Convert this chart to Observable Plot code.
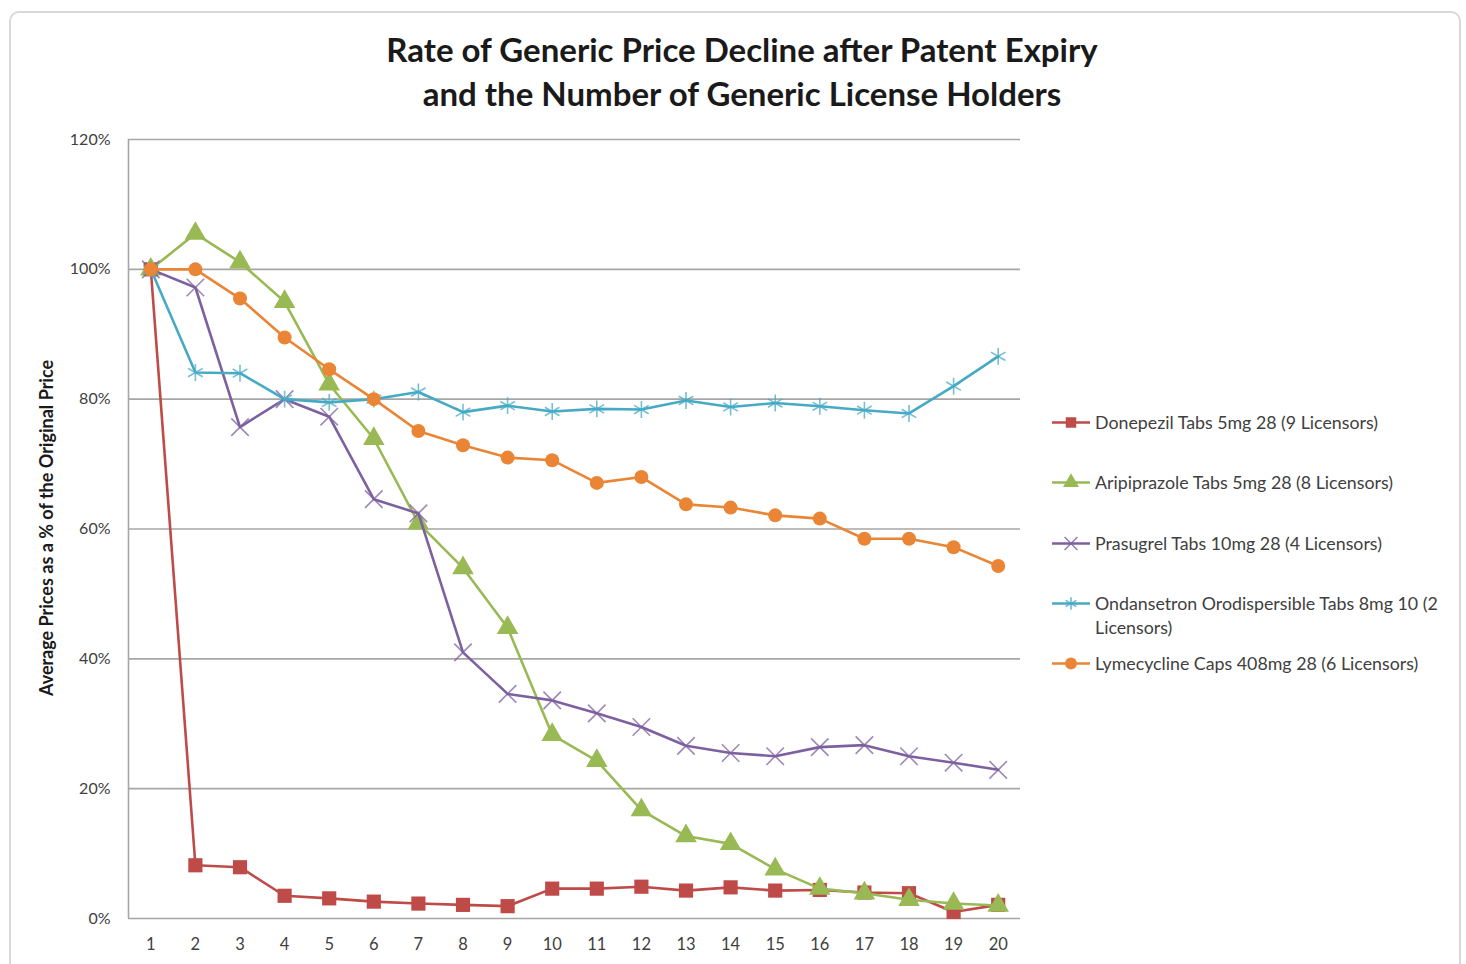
<!DOCTYPE html>
<html>
<head>
<meta charset="utf-8">
<script src="https://cdn.jsdelivr.net/npm/d3@7"></script>
<script src="https://cdn.jsdelivr.net/npm/@observablehq/plot@0.6"></script>
<style>
  html, body { margin: 0; padding: 0; background: #fff; }
  #wrap { position: relative; width: 1466px; height: 964px; overflow: hidden; font-family: Lato, "Open Sans", sans-serif; }
  #border { position: absolute; left: 9px; top: 11px; width: 1452px; height: 990px; border: 2px solid #d9d9d9; border-radius: 10px; box-sizing: border-box; }
  #title { position: absolute; left: 0; width: 1484px; top: 27px; text-align: center; font-weight: bold; font-size: 33px; line-height: 44px; color: #1a1a1a; }
  #chart { position: absolute; left: 0; top: 0; }
  #legend { position: absolute; left: 1050px; top: 410px; width: 414px; color: #404040; font-size: 17.8px; }
  .item { position: absolute; left: 0; display: flex; align-items: flex-start; }
  .item svg { flex: none; }
  .item span { line-height: 24px; margin-left: 3px; width: 370px; }
  #ylabel { position: absolute; left: 46px; top: 528px; transform: translate(-50%, -50%) rotate(-90deg); white-space: nowrap; font-weight: bold; font-size: 18px; color: #1a1a1a; }
</style>
</head>
<body>
<div id="wrap">
  <div id="border"></div>
  <div id="title">Rate of Generic Price Decline after Patent Expiry<br>and the Number of Generic License Holders</div>
  <div id="chart"></div>
  <div id="ylabel">Average Prices as a % of the Original Price</div>
  <div id="legend"></div>
</div>
<script>
// ---- data ----
const periods = [1, 2, 3, 4, 5, 6, 7, 8, 9, 10, 11, 12, 13, 14, 15, 16, 17, 18, 19, 20];
const seriesNames = [
  "Donepezil Tabs 5mg 28 (9 Licensors)",
  "Aripiprazole Tabs 5mg 28 (8 Licensors)",
  "Prasugrel Tabs 10mg 28 (4 Licensors)",
  "Ondansetron Orodispersible Tabs 8mg 10 (2 Licensors)",
  "Lymecycline Caps 408mg 28 (6 Licensors)"
];
const donepezil    = [100, 8.2, 7.9, 3.5, 3.1, 2.6, 2.3, 2.1, 1.9, 4.6, 4.6, 4.9, 4.3, 4.8, 4.3, 4.4, 4.0, 3.9, 1.0, 2.1];
const aripiprazole = [100, 105.5, 101.1, 95.0, 82.3, 73.9, 60.9, 54.0, 44.8, 28.3, 24.3, 16.7, 12.7, 11.5, 7.6, 4.6, 3.9, 2.9, 2.3, 2.0];
const prasugrel    = [100, 97.2, 75.7, 80.0, 77.3, 64.6, 62.4, 41.0, 34.6, 33.6, 31.6, 29.5, 26.6, 25.5, 25.0, 26.4, 26.7, 25.0, 24.0, 22.9];
const ondansetron  = [100, 84.1, 84.0, 80.0, 79.5, 80.0, 81.1, 78.0, 79.0, 78.1, 78.5, 78.4, 79.8, 78.8, 79.4, 78.9, 78.3, 77.8, 82.0, 86.6];
const lymecycline  = [100, 100, 95.5, 89.5, 84.6, 80.0, 75.1, 72.9, 71.0, 70.6, 67.1, 68.0, 63.8, 63.3, 62.1, 61.6, 58.5, 58.5, 57.2, 54.3];
const yTicks = [0, 20, 40, 60, 80, 100, 120];

// ---- styles ----
const colors  = ["#BE4B48", "#98B954", "#7D60A0", "#46AAC5", "#EA8535"];
const symbols = ["square", "triangle", "times", "asterisk", "circle"];
const filled  = [true, true, false, false, true];
const values  = [donepezil, aripiprazole, prasugrel, ondansetron, lymecycline];

const rows = values.map((vals, i) => periods.map((p, j) => ({period: p, value: vals[j], series: seriesNames[i]})));

const marks = [
  Plot.gridY(yTicks, {stroke: "#a6a6a6", strokeOpacity: 1, strokeWidth: 1.6}),
  Plot.ruleX([0.5], {stroke: "#a6a6a6", strokeWidth: 1.6}),
  Plot.axisY(yTicks, {tickSize: 0, tickPadding: 18, tickFormat: d => d + "%", fontSize: 16, fill: "#404040", label: null}),
  Plot.axisX(periods, {tickSize: 0, tickPadding: 20, fontSize: 16.5, fill: "#404040", label: null, tickFormat: d => String(d)})
];
rows.forEach((data, i) => {
  marks.push(Plot.line(data, {x: "period", y: "value", stroke: colors[i], strokeWidth: 2.6}));
  if (filled[i]) {
    marks.push(Plot.dot(data, {x: "period", y: "value", symbol: symbols[i], fill: colors[i], stroke: "none", r: symbols[i] === "circle" ? 7 : 8}));
  } else {
    marks.push(Plot.dot(data, {x: "period", y: "value", symbol: symbols[i], fill: "none", stroke: colors[i], strokeOpacity: 0.75, strokeWidth: 1.6, r: 8}));
  }
});

const chart = Plot.plot({
  width: 1040,
  height: 964,
  marginLeft: 128,
  marginRight: 20,
  marginTop: 139,
  marginBottom: 46,
  x: {domain: [0.5, 20.5], axis: null},
  y: {domain: [0, 120], axis: null},
  style: {fontFamily: "Lato, 'Open Sans', sans-serif", background: "transparent", overflow: "visible"},
  marks
});
document.getElementById("chart").appendChild(chart);

// ---- legend ----
const legend = d3.select("#legend");
const legendTops = [0, 60, 121, 181, 241];
seriesNames.forEach((name, i) => {
  const item = legend.append("div").attr("class", "item").style("top", legendTops[i] + "px");
  const svg = item.append("svg").attr("width", 42).attr("height", 24);
  svg.append("line").attr("x1", 2).attr("x2", 40).attr("y1", 12.5).attr("y2", 12.5).attr("stroke", colors[i]).attr("stroke-width", 2.6);
  const symType = {square: d3.symbolSquare, triangle: d3.symbolTriangle, times: d3.symbolTimes, asterisk: d3.symbolAsterisk, circle: d3.symbolCircle}[symbols[i]];
  const p = svg.append("path").attr("transform", "translate(21,12.5)").attr("d", d3.symbol(symType, 110)());
  if (filled[i]) p.attr("fill", colors[i]); else p.attr("fill", "none").attr("stroke", colors[i]).attr("stroke-width", 1.6).attr("stroke-opacity", 0.8);
  item.append("span").text(name);
});
</script>
</body>
</html>
